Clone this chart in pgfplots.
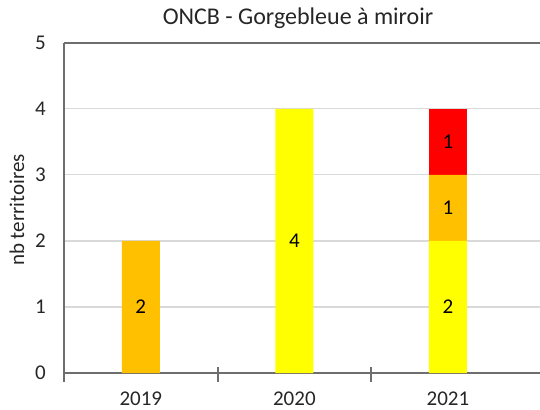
\documentclass[border=0pt]{standalone}
\usepackage{fontspec}
\setmainfont{Carlito}
\usepackage{pgfplots}
\pgfplotsset{compat=1.18}
\definecolor{cyel}{HTML}{FFFF00}
\definecolor{corg}{HTML}{FFC000}
\definecolor{cred}{HTML}{FF0000}
\definecolor{axgray}{HTML}{6E6E6E}
\definecolor{gridgray}{HTML}{D9D9D9}
\definecolor{txt}{HTML}{262626}
\newcommand{\tfont}{\fontsize{21bp}{25bp}\selectfont}
\begin{document}
\begin{tikzpicture}
\begin{axis}[
  name=ax,
  at={(0,0)}, anchor=south west,
  scale only axis,
  width=478bp, height=330.3bp,
  xmin=-0.5, xmax=2.6125,
  ymin=0, ymax=5,
  ybar stacked,
  bar width=38bp,
  axis x line=box, axis y line=left,
  axis line style={-, color=axgray, line width=2bp},
  xtick pos=left,
  xtick={0,1,2},
  xticklabels={2019,2020,2021},
  ytick={0,1,2,3,4,5},
  major tick length=0pt,
  extra x ticks={-0.5,0.5,1.5},
  extra x tick labels={},
  extra x tick style={major tick length=15bp, tick align=center, tick style={color=axgray, line width=2bp, yshift=-1.5bp}, grid=none},
  ymajorgrids,
  major grid style={color=gridgray, line width=1.3bp},
  /pgf/number format/assume math mode=true,
  tick label style={font=\tfont, text=txt},
  yticklabel style={inner sep=0pt, anchor=east, xshift=-18bp},
  xticklabel style={inner sep=0pt, anchor=north, yshift=-19bp},
  title={ONCB - Gorgebleue à miroir},
  title style={font=\fontsize{24bp}{28bp}\selectfont, text=txt, at={(0.5,1)}, anchor=base, yshift=12bp, xshift=-5bp, inner sep=0pt},
  ylabel={nb territoires},
  ylabel style={font=\tfont, text=txt, at={(axis description cs:0,0.5)}, anchor=center, yshift=47bp, xshift=-2bp, inner sep=0pt},
  nodes near coords={\pgfmathfloatifflags{\pgfplotspointmeta}{0}{}{\pgfmathprintnumber{\pgfplotspointmeta}}},
  every node near coord/.append style={font=\tfont, text=black, anchor=center},
]
\addplot[fill=cyel, draw=none] coordinates {(0,0) (1,4) (2,2)};
\addplot[fill=corg, draw=none] coordinates {(0,2) (1,0) (2,1)};
\addplot[fill=cred, draw=none] coordinates {(0,0) (1,0) (2,1)};
\end{axis}
\pgfresetboundingbox
\path[use as bounding box] (-64bp,-37bp) rectangle (476bp,373bp);
\end{tikzpicture}
\end{document}
